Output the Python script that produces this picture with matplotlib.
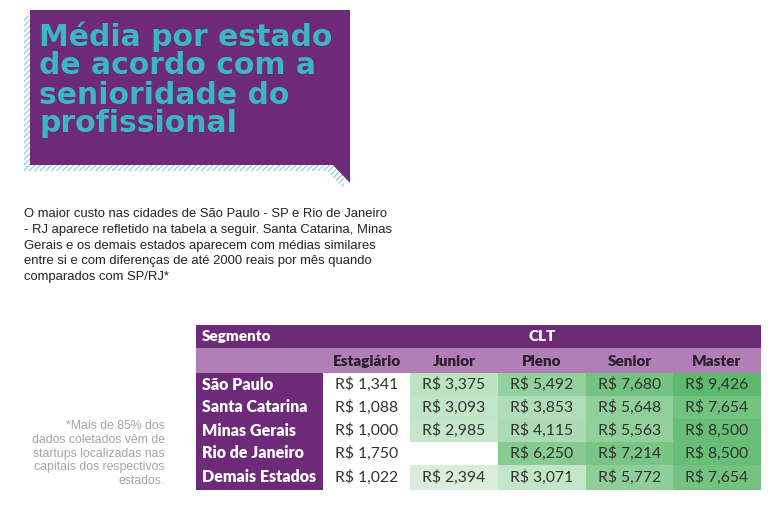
import matplotlib
matplotlib.use("Agg")
import matplotlib.pyplot as plt
import numpy as np
from matplotlib.colors import LinearSegmentedColormap, PowerNorm
from matplotlib.patches import Polygon, Rectangle


# Dados da tabela
segmentos = ["São Paulo", "Santa Catarina", "Minas Gerais", "Rio de Janeiro", "Demais Estados"]
niveis = ["Estagiário", "Junior", "Pleno", "Senior", "Master"]
estagiario = [1341, 1088, 1000, 1750, 1022]
junior = [3375, 3093, 2985, np.nan, 2394]
pleno = [5492, 3853, 4115, 6250, 3071]
senior = [7680, 5648, 5563, 7214, 5772]
master = [9426, 7654, 8500, 8500, 7654]

titulo = "Média por estado\nde acordo com a\nsenioridade do\nprofissional"
texto = ("O maior custo nas cidades de São Paulo - SP e Rio de Janeiro\n"
         "- RJ aparece refletido na tabela a seguir. Santa Catarina, Minas\n"
         "Gerais e os demais estados aparecem com médias similares\n"
         "entre si e com diferenças de até 2000 reais por mês quando\n"
         "comparados com SP/RJ*")
nota = ("*Mais de 85% dos\ndados coletados vêm de\nstartups localizadas nas\n"
        "capitais dos respectivos\nestados.")

ROXO = "#6c2a78"
ROXO_CLARO = "#b17fb5"
TEAL = "#3cb6bf"

fig = plt.figure(figsize=(7.81, 5.17), dpi=100)
ax = fig.add_axes([0, 0, 1, 1])
ax.set_xlim(0, 781)
ax.set_ylim(517, 0)
ax.axis("off")

# caixa do titulo com sombra hachurada
forma = np.array([[30, 10], [350, 10], [350, 183], [333, 165], [30, 165]])
plt.rcParams["hatch.linewidth"] = 0.8
ax.add_patch(Polygon(forma + [-6, 6], closed=True, facecolor="white",
                     edgecolor="#7fd0c6", linewidth=0, hatch="//////"))
ax.add_patch(Polygon(forma, closed=True, facecolor=ROXO, edgecolor="none"))
ax.text(39, 21, titulo, color=TEAL, fontsize=21.5, fontfamily="DejaVu Sans",
        fontweight="bold", va="top", ha="left", linespacing=1.0)

ax.text(24, 208, texto, fontsize=9.4, fontfamily="Liberation Sans",
        color="#222222", va="top", ha="left", linespacing=1.42)

ax.text(165, 420, nota, fontsize=8.8, fontfamily="Liberation Sans",
        color="#a5a5a5", va="top", ha="right", linespacing=1.2)

# tabela
x0, x_lab = 196, 323
col_edges = [323, 410, 498, 586, 673, 761]
row_edges = [373, 396, 419, 442, 465, 490]
x1 = col_edges[-1]

ax.add_patch(Rectangle((x0, 325), x1 - x0, 23, facecolor=ROXO, edgecolor="none"))
ax.add_patch(Rectangle((x0, 348), x1 - x0, 25, facecolor=ROXO_CLARO, edgecolor="none"))
ax.add_patch(Rectangle((x0, 373), x_lab - x0, row_edges[-1] - 373,
                       facecolor=ROXO, edgecolor="none"))

valores = np.array([estagiario, junior, pleno, senior, master], dtype=float).T
cmap = LinearSegmentedColormap.from_list("verde", ["#ffffff", "#5db96c"])
cmap.set_bad("white")
ax.pcolormesh(col_edges, row_edges, np.ma.masked_invalid(valores), cmap=cmap,
              norm=PowerNorm(gamma=0.55, vmin=1800, vmax=9426, clip=True))

fonte = "Lato"
ax.text(202, 336.5, "Segmento", color="white", fontsize=11, fontweight="heavy",
        fontfamily=fonte, va="center", ha="left")
ax.text((x_lab + x1) / 2, 336.5, "CLT", color="white", fontsize=11,
        fontweight="heavy", fontfamily=fonte, va="center", ha="center")
for j, nome in enumerate(niveis):
    xc = (col_edges[j] + col_edges[j + 1]) / 2
    ax.text(xc, 361, nome, color="#2b1f2e", fontsize=11, fontweight="heavy",
            fontfamily=fonte, va="center", ha="center")

for i, seg in enumerate(segmentos):
    yc = (row_edges[i] + row_edges[i + 1]) / 2
    ax.text(202, yc, seg, color="white", fontsize=11.5, fontweight="heavy",
            fontfamily=fonte, va="center", ha="left")
    for j in range(len(niveis)):
        v = valores[i, j]
        if np.isnan(v):
            continue
        xc = (col_edges[j] + col_edges[j + 1]) / 2
        ax.text(xc, yc, f"R$ {int(v):,}", color="#333333", fontsize=11.3,
                fontfamily=fonte, va="center", ha="center")

fig.savefig("out.png", dpi=100, facecolor="white")
